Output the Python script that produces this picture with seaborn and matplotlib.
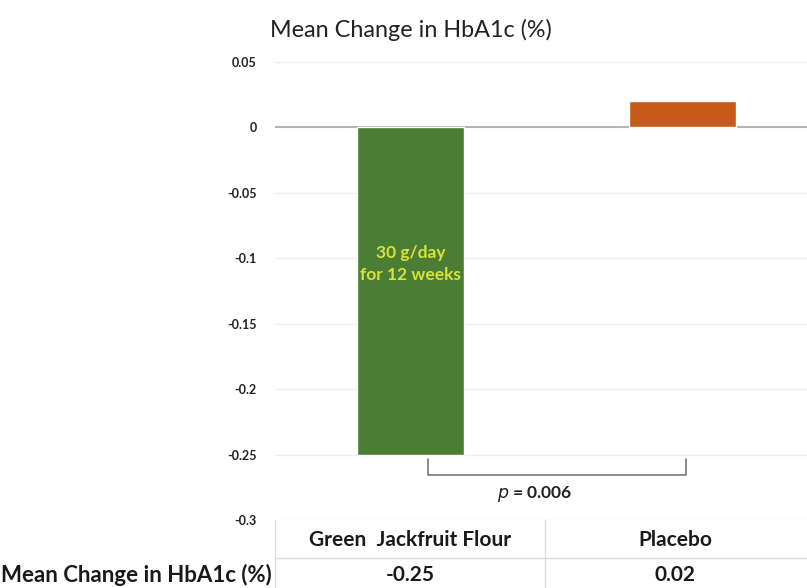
import numpy as np
import pandas as pd
import matplotlib.pyplot as plt
from matplotlib.lines import Line2D
import seaborn as sns

sns.set_theme(style="white")
plt.rcParams['font.family'] = ['Lato', 'DejaVu Sans']

categories = ["Green  Jackfruit Flour", "Placebo"]
values = [-0.25, 0.02]
value_labels = ["-0.25", "0.02"]
bar_colors = ["#4b7d35", "#c55a1a"]
y_ticks = [0.05, 0, -0.05, -0.1, -0.15, -0.2, -0.25, -0.3]
y_ticklabels = ["0.05", "0", "-0.05", "-0.1", "-0.15", "-0.2", "-0.25", "-0.3"]
title = "Mean Change in HbA1c (%)"
row_label = "Mean Change in HbA1c (%)"
bar_note = "30 g/day\nfor 12 weeks"

df = pd.DataFrame({"group": categories, "change": values})

fig = plt.figure(figsize=(8.07, 5.88), dpi=100)
W, H = 807, 588
ax = fig.add_axes([275 / W, (H - 520) / H, 1 - 275 / W, 458 / H])

sns.barplot(data=df, x="group", y="change", hue="group", palette=bar_colors,
            width=0.395, legend=False, ax=ax, saturation=1)

ax.set_xlim(-0.5, 1.46)
ax.set_ylim(-0.3, 0.05)
ax.set_yticks(y_ticks)
ax.set_yticklabels(y_ticklabels, fontsize=9, fontweight="bold", color="#222222")
for t in y_ticks:
    if t != 0:
        ax.axhline(t, color="#efefef", lw=1, zorder=0)
ax.axhline(0, color="#b5b5b5", lw=1.5, zorder=0.5)
ax.tick_params(axis="y", length=0, pad=13)
ax.set_xticks([])
ax.set_xlabel("")
ax.set_ylabel("")
for s in ax.spines.values():
    s.set_visible(False)

# label inside green bar
ax.text(0, -0.1045, bar_note, ha="center", va="center", fontsize=12.5,
        fontweight="bold", color="#d8e23a", linespacing=1.45)

# significance bracket
bx0, bx1 = 0.063, 1.015
ax.plot([bx0, bx0, bx1, bx1], [-0.2535, -0.2655, -0.2655, -0.2535],
        color="#777777", lw=1.2, clip_on=False)
ax.text(0.458, -0.2805, "$\\mathbf{\\it{p}}$ = 0.006", ha="center", va="center",
        fontsize=12.5, fontweight="bold", color="#222222")

fig.text(270 / W, 1 - 30 / H, title, ha="left", va="center", fontsize=16.8, color="#222222")

# table below the chart
col_centers = [410 / W, 675 / W]
for cx, cat, lab in zip(col_centers, categories, value_labels):
    fig.text(cx, 1 - 540 / H, cat, ha="center", va="center", fontsize=15,
             fontweight="bold", color="#1a1a1a")
    fig.text(cx, 1 - 575 / H, lab, ha="center", va="center", fontsize=15,
             fontweight="bold", color="#1a1a1a")
fig.text(1 / W, 1 - 575 / H, row_label, ha="left", va="center", fontsize=16,
         fontweight="bold", color="#1a1a1a")

line_kw = dict(color="#dddddd", lw=1, transform=fig.transFigure)
fig.add_artist(Line2D([275 / W, 275 / W], [0, 1 - 520 / H], **line_kw))
fig.add_artist(Line2D([545 / W, 545 / W], [0, 1 - 520 / H], **line_kw))
fig.add_artist(Line2D([275 / W, 1], [1 - 558 / H, 1 - 558 / H], **line_kw))

fig.savefig("out.png", dpi=100)
